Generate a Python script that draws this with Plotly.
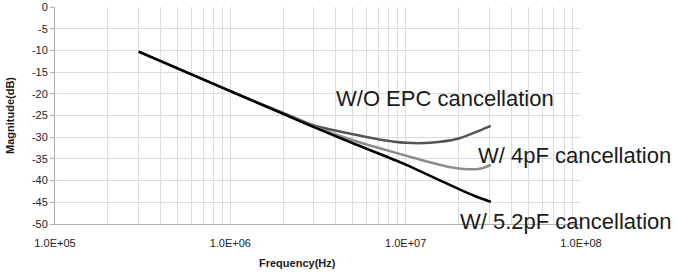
import plotly.graph_objects as go

# ---- data ----
freq_wo = [3e5, 1e6, 2e6, 3e6, 5e6, 7.2e6, 1e7, 1.38e7, 2e7, 2.7e7, 3.06e7]
db_wo = [-10.3, -19.4, -24.4, -27.3, -29.3, -30.6, -31.3, -31.3, -30.3, -28.3, -27.4]

freq_4pf = [3e5, 1e6, 2e6, 3e6, 5e6, 7.2e6, 1.12e7, 1.74e7, 2.26e7, 2.7e7, 3.06e7]
db_4pf = [-10.3, -19.4, -24.5, -27.6, -30.7, -32.6, -34.8, -36.8, -37.4, -37.2, -36.4]

freq_52pf = [3e5, 1e6, 2e6, 3e6, 5e6, 1e7, 1.5e7, 2e7, 2.5e7, 3.06e7]
db_52pf = [-10.3, -19.4, -24.6, -27.7, -31.4, -36.3, -39.6, -41.9, -43.6, -44.9]

series_names = ["W/O EPC cancellation", "W/ 4pF cancellation", "W/ 5.2pF cancellation"]
series_colors = ["#555555", "#8c8c8c", "#000000"]

decades = [1e5, 1e6, 1e7, 1e8]
decade_labels = ["1.0E+05", "1.0E+06", "1.0E+07", "1.0E+08"]
y_ticks = list(range(0, -55, -5))

# x grid: every 1..9 x decade, labels only at decades
x_tickvals, x_ticktext = [], []
for i, d in enumerate(decades):
    x_tickvals.append(d)
    x_ticktext.append(decade_labels[i])
    if i < len(decades) - 1:
        for k in range(2, 10):
            x_tickvals.append(d * k)
            x_ticktext.append("")

fig = go.Figure()
for fx, fy, name, col in zip([freq_wo, freq_4pf, freq_52pf],
                             [db_wo, db_4pf, db_52pf],
                             series_names, series_colors):
    fig.add_trace(go.Scatter(x=fx, y=fy, mode="lines", name=name,
                             line=dict(color=col, width=2.5, shape="spline", smoothing=0.8)))

W, H = 676, 276
L, R, T, B = 55, 95, 7, 52
pw, ph = W - L - R, H - T - B

# curve labels (pixel centres in the reference)
label_pos = [(445, 98), (574, 155), (566, 221)]
for (px, py), name in zip(label_pos, series_names):
    fig.add_annotation(text=name, x=(px - L) / pw, y=1 - (py - T) / ph,
                       xref="paper", yref="paper", showarrow=False,
                       xanchor="center", yanchor="middle",
                       font=dict(family="Liberation Sans, Arial", size=22, color="#1a1a1a"))

# x axis title
fig.add_annotation(text="<b>Frequency(Hz)</b>", x=(297 - L) / pw, y=1 - (263 - T) / ph,
                   xref="paper", yref="paper", showarrow=False,
                   xanchor="center", yanchor="middle",
                   font=dict(family="Liberation Sans, Arial", size=11, color="#1a1a1a"))

# y axis title
fig.add_annotation(text="<b>Magnitude(dB)</b>", x=(10 - L) / pw, y=1 - (116 - T) / ph,
                   xref="paper", yref="paper", showarrow=False, textangle=-90,
                   xanchor="center", yanchor="middle",
                   font=dict(family="Liberation Sans, Arial", size=11, color="#1a1a1a"))

fig.update_layout(
    width=W, height=H,
    margin=dict(l=L, r=R, t=T, b=B),
    paper_bgcolor="white", plot_bgcolor="white",
    showlegend=False,
    font=dict(family="Liberation Sans, Arial", size=11, color="#222222"),
)
fig.update_xaxes(type="log", range=[5, 8], tickmode="array",
                 tickvals=x_tickvals, ticktext=x_ticktext,
                 showgrid=True, gridcolor="#dcdcdc", gridwidth=1,
                 showline=True, linecolor="#b0b0b0", linewidth=1,
                 ticks="", ticklabelstandoff=9, zeroline=False, automargin=False,
                 tickfont=dict(size=11, color="#222222"))
fig.update_yaxes(range=[-50, 0], tickmode="array", tickvals=y_ticks,
                 ticktext=[str(v) for v in y_ticks],
                 showgrid=True, gridcolor="#dcdcdc", gridwidth=1,
                 showline=True, linecolor="#b0b0b0", linewidth=1,
                 ticks="outside", ticklen=4, tickcolor="#b0b0b0",
                 zeroline=False, automargin=False,
                 tickfont=dict(size=11, color="#222222"))

fig.write_html("out.html", config={"displayModeBar": False},
               post_script="document.body.style.margin='0';document.body.style.overflow='hidden';")
